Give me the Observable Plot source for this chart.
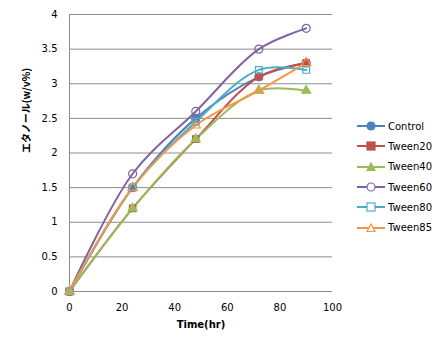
<!DOCTYPE html>
<html>
<head>
<meta charset="utf-8">
<script src="https://cdn.jsdelivr.net/npm/d3@7"></script>
<script src="https://cdn.jsdelivr.net/npm/@observablehq/plot@0.6"></script>
<style>
  body { margin: 0; background: #fff; }
  #wrap { position: relative; width: 447px; height: 353px; font-family: "DejaVu Sans", sans-serif; }
  #legend { position: absolute; left: 357px; top: 116px; font-size: 10px; color: #000; }
  .item { display: flex; align-items: center; height: 20.3px; }
  .item svg { margin-right: 3px; }
</style>
</head>
<body>
<div id="wrap"><div id="chart"></div><div id="legend"></div></div>
<script>
const times = [0, 24, 48, 72, 90];
const seriesNames = ["Control", "Tween20", "Tween40", "Tween60", "Tween80", "Tween85"];
const control = [0, 1.5, 2.5, 3.1, 3.3];
const tween20 = [0, 1.2, 2.2, 3.1, 3.3];
const tween40 = [0, 1.2, 2.2, 2.9, 2.9];
const tween60 = [0, 1.7, 2.6, 3.5, 3.8];
const tween80 = [0, 1.5, 2.45, 3.2, 3.2];
const tween85 = [0, 1.5, 2.4, 2.9, 3.3];
const xTicks = [0, 20, 40, 60, 80, 100];
const yTicks = [0, 0.5, 1, 1.5, 2, 2.5, 3, 3.5, 4];
const colors = ["#4F81BD", "#C0504D", "#9BBB59", "#8064A2", "#4BACC6", "#F79646"];
const symbols = ["circle", "square", "triangle", "circle", "square", "triangle"];
const filled = [true, true, true, false, false, false];
const radii = [4, 3.6, 3.3, 4, 3.8, 3.5];

const allValues = [control, tween20, tween40, tween60, tween80, tween85];
const data = [];
seriesNames.forEach((s, i) => times.forEach((t, j) => data.push({series: s, time: t, value: allValues[i][j]})));

const chart = Plot.plot({
  width: 447,
  height: 353,
  marginLeft: 69,
  marginRight: 115,
  marginTop: 14,
  marginBottom: 62,
  style: {fontFamily: "DejaVu Sans, sans-serif", fontSize: "10px", color: "#000"},
  x: {domain: [0, 100], ticks: xTicks, label: null},
  y: {domain: [0, 4], ticks: yTicks, label: null},
  color: {domain: seriesNames, range: colors},
  symbol: {domain: seriesNames, range: symbols},
  marks: [
    Plot.gridY(yTicks, {stroke: "#8c8c8c", strokeOpacity: 1, strokeWidth: 1}),
    Plot.ruleX([0], {stroke: "#8c8c8c"}),
    Plot.axisY({ticks: yTicks, tickSize: 0, tickPadding: 12, label: null, tickFormat: d => String(d)}),
    Plot.axisX({ticks: xTicks, tickSize: 0, tickPadding: 12, label: null}),
    Plot.text(["Time(hr)"], {frameAnchor: "bottom", dy: 36, fontWeight: "bold", fontSize: 10}),
    Plot.text(["エタノール(w/v%)"], {frameAnchor: "left", dx: -43, rotate: -90, fontWeight: "bold", fontSize: 10, fontFamily: "Noto Sans CJK JP"}),
    Plot.line(data, {x: "time", y: "value", z: "series", stroke: "series", strokeWidth: 2, curve: "catmull-rom"}),
    ...seriesNames.map((s, i) => Plot.dot(data.filter(d => d.series === s), {
      x: "time", y: "value", symbol: "series", r: radii[i],
      stroke: colors[i], strokeWidth: 1.2,
      fill: filled[i] ? colors[i] : "none"
    }))
  ]
});
document.getElementById("chart").appendChild(chart);

const legend = document.getElementById("legend");
const symPaths = {
  circle: (c, f) => `<circle cx="14" cy="5" r="4" fill="${f ? c : 'white'}" stroke="${c}" stroke-width="1.2"/>`,
  square: (c, f) => `<rect x="10" y="1" width="8" height="8" fill="${f ? c : 'white'}" stroke="${c}" stroke-width="1.2"/>`,
  triangle: (c, f) => `<path d="M14,1L18,8.5L10,8.5Z" fill="${f ? c : 'white'}" stroke="${c}" stroke-width="1.2"/>`
};
seriesNames.forEach((s, i) => {
  const div = document.createElement("div");
  div.className = "item";
  div.innerHTML = `<svg width="28" height="10"><line x1="0" y1="5" x2="28" y2="5" stroke="${colors[i]}" stroke-width="2"/>${symPaths[symbols[i]](colors[i], filled[i])}</svg><span>${s}</span>`;
  legend.appendChild(div);
});
</script>
</body>
</html>
